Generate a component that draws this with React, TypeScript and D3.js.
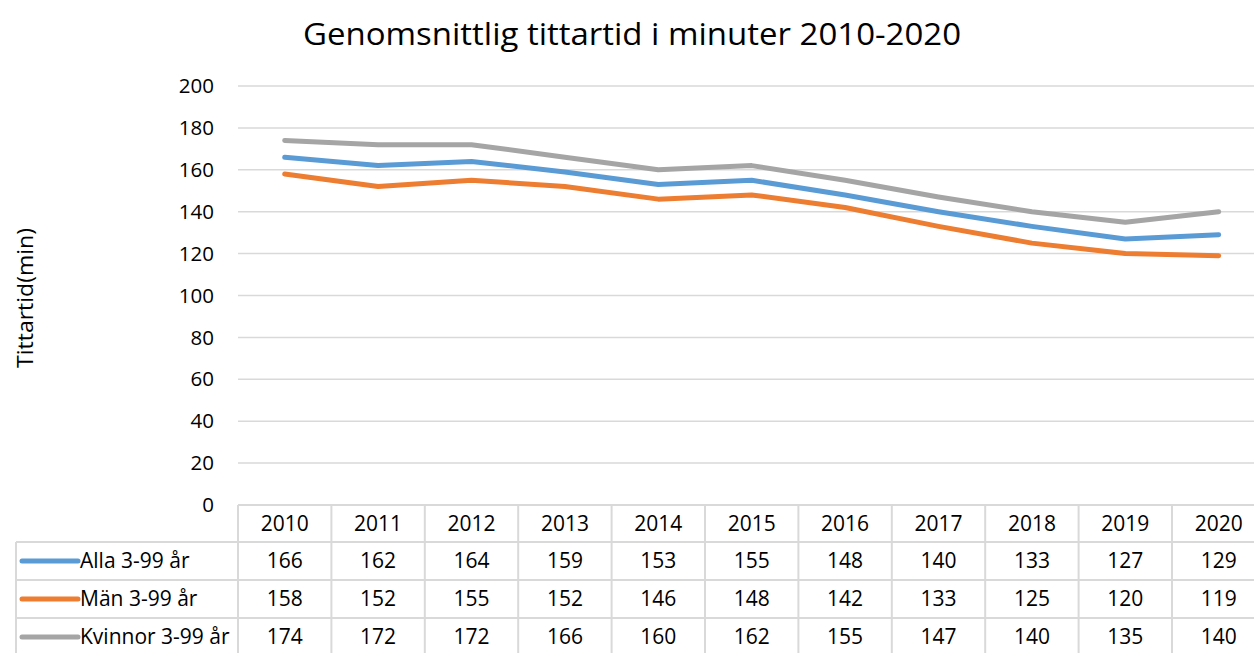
import React from "react";
import * as d3 from "d3";

const years = ["2010","2011","2012","2013","2014","2015","2016","2017","2018","2019","2020"];
const alla = [166,162,164,159,153,155,148,140,133,127,129];
const man = [158,152,155,152,146,148,142,133,125,120,119];
const kvinnor = [174,172,172,166,160,162,155,147,140,135,140];
const yTicks = [0,20,40,60,80,100,120,140,160,180,200];
const seriesNames = ["Alla 3-99 år","Män 3-99 år","Kvinnor 3-99 år"];
const seriesColors = ["#5b9bd5","#ed7d31","#a5a5a5"];
const title = "Genomsnittlig tittartid i minuter 2010-2020";
const yLabel = "Tittartid(min)";

const W = 1254, H = 653;
const FONT = "'Open Sans', 'Liberation Sans', sans-serif";

export default function App() {
  const series = [alla, man, kvinnor];
  const x = d3.scaleBand<string>().domain(years).range([238, 238 + 93.4 * years.length]).padding(0);
  const cx = (yr: string) => (x(yr) as number) + x.bandwidth() / 2;
  const y = d3.scaleLinear().domain([0, 200]).range([505, 86]);
  const line = d3.line<number>().x((_, i) => cx(years[i])).y(d => y(d));
  const gridColor = "#d9d9d9";
  const rowTops = [505, 542, 580, 618, 656];
  const tableRight = 238 + 93.4 * years.length;

  return (
    <svg width={W} height={H} style={{ position: "fixed", left: 0, top: 0, background: "#fff" }} fontFamily={FONT}>
      <rect x={0} y={0} width={W} height={H} fill="#fff" />
      <text x={632} y={45} textAnchor="middle" fontSize={31} fill="#000" textLength={658} lengthAdjust="spacingAndGlyphs">{title}</text>
      <text transform={`translate(33,298) rotate(-90)`} textAnchor="middle" fontSize={22.5} fill="#000" textLength={140} lengthAdjust="spacingAndGlyphs">{yLabel}</text>
      {yTicks.map(t => (
        <g key={t}>
          {t > 0 && <line x1={238} x2={W} y1={y(t)} y2={y(t)} stroke={gridColor} strokeWidth={1.5} />}
          <text x={214} y={y(t)} dy="0.35em" textAnchor="end" fontSize={20.5} fill="#000">{t}</text>
        </g>
      ))}
      <line x1={238} x2={tableRight} y1={505} y2={505} stroke={gridColor} strokeWidth={2} />
      {rowTops.slice(1).map(r => (
        <line key={r} x1={16} x2={tableRight} y1={r} y2={r} stroke={gridColor} strokeWidth={2} />
      ))}
      <line x1={16} x2={16} y1={542} y2={H} stroke={gridColor} strokeWidth={2} />
      {years.map(yr => (
        <line key={yr} x1={x(yr) as number} x2={x(yr) as number} y1={505} y2={H} stroke={gridColor} strokeWidth={2} />
      ))}
      {years.map(yr => (
        <text key={yr} x={cx(yr)} y={(rowTops[0] + rowTops[1]) / 2} dy="0.35em" textAnchor="middle" fontSize={21} fill="#000">{yr}</text>
      ))}
      {series.map((s, si) => {
        const cy = (rowTops[si + 1] + rowTops[si + 2]) / 2;
        return (
          <g key={si}>
            <line x1={22} x2={78} y1={cy} y2={cy} stroke={seriesColors[si]} strokeWidth={5} strokeLinecap="round" />
            <text x={80} y={cy} dy="0.35em" fontSize={21} fill="#000">{seriesNames[si]}</text>
            {s.map((v, i) => (
              <text key={i} x={cx(years[i])} y={cy} dy="0.35em" textAnchor="middle" fontSize={21} fill="#000">{v}</text>
            ))}
          </g>
        );
      })}
      {[2, 0, 1].map(si => (
        <path key={si} d={line(series[si]) as string} fill="none" stroke={seriesColors[si]} strokeWidth={5} strokeLinecap="round" strokeLinejoin="round" />
      ))}
    </svg>
  );
}
